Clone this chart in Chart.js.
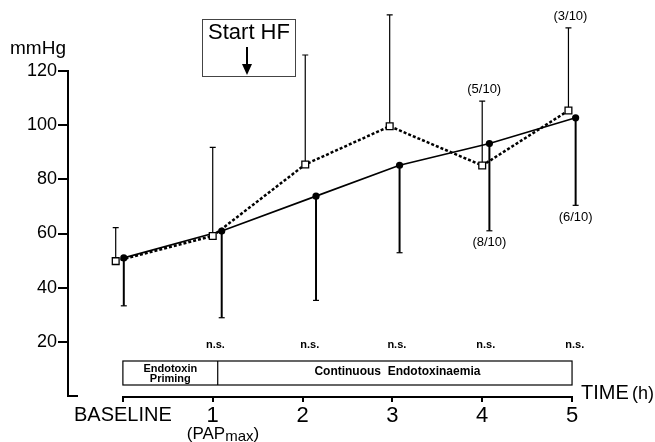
<!DOCTYPE html>
<html>
<head>
<meta charset="utf-8">
<script src="https://cdn.jsdelivr.net/npm/chart.js@4/dist/chart.umd.min.js"></script>
<style>
  html, body { margin: 0; padding: 0; background: #fff; }
  #wrap { width: 655px; height: 442px; }
</style>
</head>
<body>
<div id="wrap"><canvas id="canvas"></canvas></div>
<script>
'use strict';

// time points (h) and axis labels
var tickTimes = [0, 1, 2, 3, 4, 5];
var tickLabels = ['BASELINE', '1', '2', '3', '4', '5'];
var yTicks = [20, 40, 60, 80, 100, 120];

// open squares, dotted line (mean and upper error)
var squareTimes = [-0.08, 1.0, 2.03, 2.97, 4.0, 4.96];
var squareMean = [49.8, 59.1, 85.5, 99.6, 85.1, 105.4];
var squareUpper = [62.2, 91.8, 125.9, 140.7, 108.9, 135.9];

// filled dots, solid line (mean and lower error)
var dotTimes = [0.01, 1.1, 2.15, 3.08, 4.08, 5.04];
var dotMean = [51.0, 60.9, 73.8, 85.2, 93.2, 102.7];
var dotLower = [33.3, 28.9, 35.3, 52.9, 61.0, 70.4];

// n.s. markers and counts
var nsTimes = [1.03, 2.08, 3.05, 4.04, 5.03];
var squareNotes = { 4: '(5/10)', 5: '(3/10)' };
var dotNotes = { 4: '(8/10)', 5: '(6/10)' };

var FONT = '"Liberation Sans", Arial, sans-serif';

function toPoints(xs, ys) {
	var out = [];
	for (var i = 0; i < xs.length; i++) {
		out.push({ x: xs[i], y: ys[i] });
	}
	return out;
}

var extras = {
	id: 'extras',
	beforeDatasetsDraw: function (chart) {
		var ctx = chart.ctx;
		var xs = chart.scales.x;
		var ys = chart.scales.y;
		ctx.save();
		ctx.strokeStyle = '#000';
		// error bars, squares up
		ctx.lineWidth = 1.2;
		for (var i = 0; i < squareTimes.length; i++) {
			var x = xs.getPixelForValue(squareTimes[i]);
			var y0 = ys.getPixelForValue(squareMean[i]);
			var y1 = ys.getPixelForValue(squareUpper[i]);
			ctx.beginPath();
			ctx.moveTo(x, y0);
			ctx.lineTo(x, y1);
			ctx.moveTo(x - 3, y1);
			ctx.lineTo(x + 3, y1);
			ctx.stroke();
		}
		// error bars, dots down
		for (var j = 0; j < dotTimes.length; j++) {
			var dx = xs.getPixelForValue(dotTimes[j]);
			var d0 = ys.getPixelForValue(dotMean[j]);
			var d1 = ys.getPixelForValue(dotLower[j]);
			ctx.lineWidth = 2;
			ctx.beginPath();
			ctx.moveTo(dx, d0);
			ctx.lineTo(dx, d1);
			ctx.stroke();
			ctx.lineWidth = 1.2;
			ctx.beginPath();
			ctx.moveTo(dx - 3, d1);
			ctx.lineTo(dx + 3, d1);
			ctx.stroke();
		}
		ctx.restore();
	},
	afterDraw: function (chart) {
		var ctx = chart.ctx;
		var xs = chart.scales.x;
		var ys = chart.scales.y;
		var area = chart.chartArea;
		var x0 = xs.getPixelForValue(0);
		var x1 = xs.getPixelForValue(1);
		var x5 = xs.getPixelForValue(5);
		ctx.save();
		ctx.strokeStyle = '#000';
		ctx.fillStyle = '#000';

		// x axis line and y axis foot
		ctx.lineWidth = 2;
		ctx.beginPath();
		ctx.moveTo(x0, area.bottom + 1);
		ctx.lineTo(x5, area.bottom + 1);
		ctx.moveTo(area.left, area.bottom);
		ctx.lineTo(area.left + 10, area.bottom);
		ctx.stroke();

		// endotoxin band
		ctx.lineWidth = 1.2;
		ctx.strokeRect(x0, area.bottom - 35, x5 - x0, 24);
		ctx.beginPath();
		ctx.moveTo(x1 + 5, area.bottom - 35);
		ctx.lineTo(x1 + 5, area.bottom - 11);
		ctx.stroke();
		ctx.textAlign = 'center';
		ctx.textBaseline = 'middle';
		ctx.font = 'bold 11px ' + FONT;
		ctx.fillText('Endotoxin', (x0 + x1 + 5) / 2, area.bottom - 27);
		ctx.fillText('Priming', (x0 + x1 + 5) / 2, area.bottom - 17);
		ctx.font = 'bold 12px ' + FONT;
		ctx.fillText('Continuous  Endotoxinaemia', (x1 + x5) / 2 + 5, area.bottom - 24);

		// n.s.
		ctx.font = 'bold 11px ' + FONT;
		for (var i = 0; i < nsTimes.length; i++) {
			ctx.fillText('n.s.', xs.getPixelForValue(nsTimes[i]), area.bottom - 51);
		}

		// counts
		ctx.font = '13px ' + FONT;
		Object.keys(squareNotes).forEach(function (k) {
			ctx.fillText(squareNotes[k], xs.getPixelForValue(squareTimes[k]) + 2, ys.getPixelForValue(squareUpper[k]) - 12);
		});
		Object.keys(dotNotes).forEach(function (k) {
			ctx.fillText(dotNotes[k], xs.getPixelForValue(dotTimes[k]), ys.getPixelForValue(dotLower[k]) + 12);
		});

		// unit and time labels
		ctx.textAlign = 'left';
		ctx.font = '19px ' + FONT;
		ctx.fillText('mmHg', 10, 49);
		ctx.textBaseline = 'alphabetic';
		ctx.font = '20px ' + FONT;
		ctx.fillText('TIME', x5 + 9, area.bottom + 3);
		ctx.font = '18px ' + FONT;
		ctx.fillText('(h)', x5 + 60, area.bottom + 3);
		ctx.font = '17px ' + FONT;
		ctx.fillText('(PAP', x1 - 26, area.bottom + 43);
		var w = ctx.measureText('(PAP').width;
		ctx.font = '15px ' + FONT;
		ctx.fillText('max', x1 - 26 + w, area.bottom + 45);
		var w2 = ctx.measureText('max').width;
		ctx.font = '17px ' + FONT;
		ctx.fillText(')', x1 - 26 + w + w2, area.bottom + 43);

		// Start HF box
		ctx.strokeStyle = '#444';
		ctx.lineWidth = 1;
		ctx.strokeRect(202.5, 19.5, 93, 57);
		ctx.textAlign = 'center';
		ctx.textBaseline = 'middle';
		ctx.font = '22px ' + FONT;
		ctx.fillText('Start HF', 249, 33);
		ctx.strokeStyle = '#000';
		ctx.lineWidth = 2;
		ctx.beginPath();
		ctx.moveTo(247, 47);
		ctx.lineTo(247, 66);
		ctx.stroke();
		ctx.beginPath();
		ctx.moveTo(242, 64);
		ctx.lineTo(252, 64);
		ctx.lineTo(247, 75);
		ctx.closePath();
		ctx.fill();
		ctx.restore();
	}
};

var config = {
	type: 'line',
	data: {
		datasets: [{
			label: 'squares',
			data: toPoints(squareTimes, squareMean),
			borderColor: '#000',
			borderWidth: 2.5,
			borderDash: [3, 2],
			pointStyle: 'rect',
			pointRadius: 4.8,
			pointBorderWidth: 1.3,
			pointBackgroundColor: '#fff',
			pointBorderColor: '#000',
			tension: 0,
			clip: false
		}, {
			label: 'dots',
			data: toPoints(dotTimes, dotMean),
			borderColor: '#000',
			borderWidth: 1.6,
			pointStyle: 'circle',
			pointRadius: 3.6,
			pointBorderWidth: 0,
			pointBackgroundColor: '#000',
			tension: 0,
			clip: false
		}]
	},
	options: {
		responsive: true,
		maintainAspectRatio: false,
		animation: false,
		layout: { padding: { top: 71, right: 5, left: 0, bottom: 0 } },
		plugins: { legend: { display: false }, tooltip: { enabled: false } },
		scales: {
			x: {
				type: 'linear',
				min: -0.6111,
				max: 5.8556,
				afterFit: function (s) { s.height = 46; },
				afterBuildTicks: function (s) {
					s.ticks = tickTimes.map(function (v) { return { value: v }; });
				},
				ticks: {
					autoSkip: false,
					maxRotation: 0,
					padding: 1,
					color: '#000',
					callback: function (v, i) { return tickLabels[i]; },
					font: function (c) {
						return { family: FONT, size: c.index === 0 ? 20 : 22 };
					}
				},
				grid: { drawOnChartArea: false, tickLength: 6, color: '#000', lineWidth: 2 },
				border: { display: false }
			},
			y: {
				min: 0,
				max: 120,
				afterFit: function (s) { s.width = 68; },
				afterBuildTicks: function (s) {
					s.ticks = yTicks.map(function (v) { return { value: v }; });
				},
				ticks: { color: '#000', padding: 1, font: { family: FONT, size: 18 } },
				grid: { drawOnChartArea: false, tickLength: 10, color: '#000', lineWidth: 2 },
				border: { display: true, color: '#000', width: 2 }
			}
		}
	},
	plugins: [extras]
};

var ctx = document.getElementById('canvas').getContext('2d');
window.mychart = new Chart(ctx, config);
</script>
</body>
</html>
